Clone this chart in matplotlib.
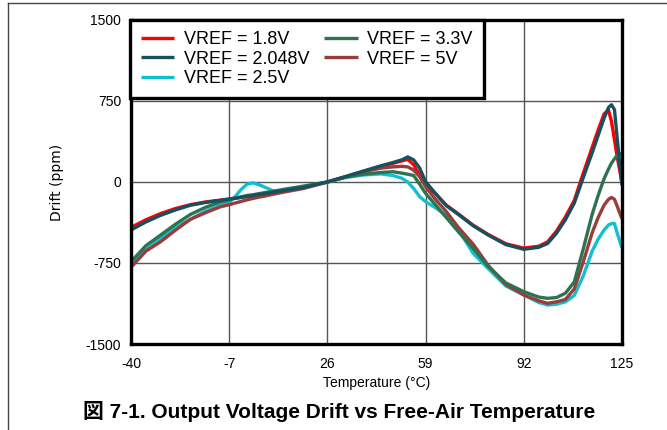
import matplotlib
matplotlib.use("Agg")
import matplotlib.pyplot as plt
from matplotlib.lines import Line2D

# temperature points (degC)
temp = [-40, -35, -30, -25, -20, -15, -10, -7, -5, -3, -1, 1, 3, 5, 8, 12, 18, 26,
        32, 38, 44, 48, 51, 53, 55, 57, 59, 62, 66, 70, 75, 80, 86, 92, 97, 100,
        103, 106, 109, 112, 115, 117, 119, 120.5, 121.5, 122.5, 123.5, 125]

# drift in ppm for each VREF
v1p8 = [-420, -350, -292, -245, -210, -185, -168, -158, -150, -142, -133, -125, -116, -108, -94, -77, -50, 0,
        48, 97, 145, 172, 195, 210, 160, 60, -10, -100, -215, -295, -400, -485, -572, -612, -595, -555,
        -455, -325, -170, 80, 320, 480, 630, 665, 560, 390, 220, 0]
v2p048 = [-444, -370, -308, -258, -215, -190, -170, -158, -150, -142, -133, -125, -116, -108, -94, -77, -50, 0,
          50, 100, 150, 180, 205, 232, 205, 130, 3, -95, -220, -300, -405, -490, -580, -623, -605, -570,
          -475, -350, -195, 40, 270, 430, 590, 690, 715, 670, 380, -30]
v2p5 = [-760, -630, -520, -420, -345, -270, -215, -188, -135, -70, -20, -8, -25, -48, -85, -75, -45, 0,
        40, 65, 75, 60, 35, 0, -60, -135, -182, -232, -310, -440, -660, -800, -963, -1045, -1115, -1139,
        -1132, -1110, -1050, -870, -640, -530, -445, -398, -385, -385, -480, -610]
v3p3 = [-738, -590, -490, -390, -300, -235, -185, -165, -150, -138, -125, -118, -108, -98, -85, -65, -38, 0,
        45, 72, 88, 95, 82, 72, 60, -20, -105, -200, -330, -460, -615, -780, -935, -1015, -1065, -1077,
        -1070, -1030, -925, -620, -300, -125, 30, 120, 175, 215, 250, 265]
v5 = [-790, -640, -552, -445, -345, -285, -230, -210, -195, -180, -165, -152, -140, -130, -112, -90, -60, 0,
      45, 95, 128, 140, 145, 140, 110, 50, -43, -150, -275, -420, -575, -770, -950, -1046, -1100, -1123,
      -1110, -1088, -990, -740, -470, -330, -215, -160, -143, -160, -230, -340]

series = [
    ("VREF = 1.8V", v1p8, "#ff0000", 3),
    ("VREF = 2.048V", v2p048, "#17505f", 7),
    ("VREF = 2.5V", v2p5, "#12bfd0", 4),
    ("VREF = 3.3V", v3p3, "#2d7350", 6),
    ("VREF = 5V", v5, "#9c3b3b", 5),
]

xticks = [-40, -7, 26, 59, 92, 125]
yticks = [-1500, -750, 0, 750, 1500]

plt.rcParams['font.family'] = ['Liberation Sans', 'DejaVu Sans']
plt.rcParams['axes.unicode_minus'] = False

fig = plt.figure(figsize=(6.67, 4.30), dpi=100)
ax = fig.add_axes([0.1964, 0.2, 0.736, 0.7535])

for label, vals, col, z in series:
    ax.plot(temp, vals, color=col, lw=2.4, label=label, zorder=z,
            solid_capstyle='butt', solid_joinstyle='round')

ax.set_xlim(-40, 125)
ax.set_ylim(-1500, 1500)
ax.set_xticks(xticks)
ax.set_yticks(yticks)
ax.grid(True, color='#555555', lw=1.0, zorder=1)
ax.tick_params(length=0, labelsize=10)
ax.tick_params(axis='x', pad=9)
ax.tick_params(axis='y', pad=7)
for sp in ax.spines.values():
    sp.set_linewidth(2.4)
    sp.set_zorder(10)

ax.set_xlabel("Temperature (°C)", fontsize=10, labelpad=4)
ax.set_ylabel("Drift (ppm)", fontsize=10, family=['DejaVu Sans'], labelpad=16)

leg = ax.legend(loc='upper left', bbox_to_anchor=(-0.002, 1.0), ncol=2,
                fontsize=13, frameon=True, fancybox=False, framealpha=1,
                edgecolor='black', borderaxespad=0, handlelength=1.85,
                handletextpad=0.55, columnspacing=0.8, labelspacing=0.15,
                borderpad=0.6)
leg.get_frame().set_linewidth(2.4)
leg.set_zorder(20)

fig.text(0.509, 0.044, "図 7-1. Output Voltage Drift vs Free-Air Temperature",
         ha='center', va='center', fontsize=15, fontweight='bold',
         family=['Liberation Sans', 'Noto Sans CJK JP'])

# page frame lines (top and left)
fig.add_artist(Line2D([0.0125, 1.0], [0.994, 0.994], color='#444444', lw=1.0))
fig.add_artist(Line2D([0.0125, 0.0125], [0.0, 0.994], color='#444444', lw=1.0))

fig.savefig("out.png", dpi=100)
